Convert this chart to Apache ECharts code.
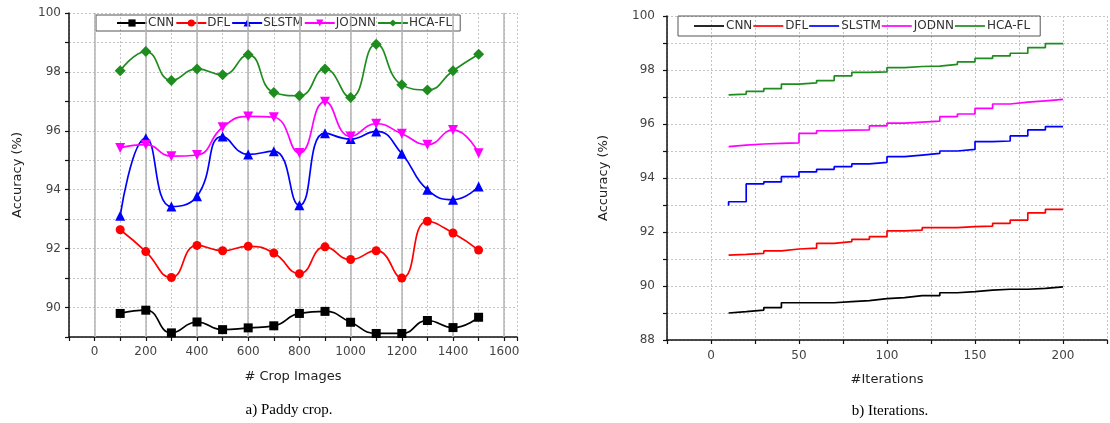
<!DOCTYPE html>
<html>
<head>
<meta charset="utf-8">
<script src="https://cdn.jsdelivr.net/npm/echarts@6/dist/echarts.min.js"></script>
<style>
html,body{margin:0;padding:0;background:#fff;}
#c{width:1110px;height:423px;}
</style>
</head>
<body>
<div id="c"></div>
<script>
// ---------- data: (a) Paddy crop ----------
const seriesNames = ['CNN', 'DFL', 'SLSTM', 'JODNN', 'HCA-FL'];
const cropImages = [100, 200, 300, 400, 500, 600, 700, 800, 900, 1000, 1100, 1200, 1300, 1400, 1500];
const cnnCrop   = [89.80, 89.91, 89.14, 89.51, 89.25, 89.31, 89.38, 89.80, 89.87, 89.50, 89.12, 89.12, 89.56, 89.32, 89.67];
const dflCrop   = [92.64, 91.90, 91.02, 92.11, 91.93, 92.08, 91.85, 91.15, 92.06, 91.63, 91.93, 91.00, 92.93, 92.53, 91.95];
const slstmCrop = [93.12, 95.75, 93.43, 93.78, 95.81, 95.20, 95.31, 93.47, 95.92, 95.72, 95.98, 95.22, 94.00, 93.66, 94.11];
const jodnnCrop = [95.42, 95.53, 95.14, 95.18, 96.12, 96.49, 96.46, 95.25, 96.99, 95.81, 96.24, 95.90, 95.53, 96.03, 95.24];
const hcaCrop   = [98.04, 98.69, 97.71, 98.10, 97.90, 98.58, 97.30, 97.19, 98.10, 97.13, 98.94, 97.56, 97.39, 98.04, 98.60];
const cropMajorLines = [0, 200, 400, 600, 800, 1000, 1200, 1400, 1600];

// ---------- data: (b) Iterations ----------
const iterations = [10, 20, 30, 40, 50, 60, 70, 80, 90, 100, 110, 120, 130, 140, 150, 160, 170, 180, 190, 200];
const cnnIter   = [89.00, 89.05, 89.11, 89.20, 89.38, 89.38, 89.38, 89.42, 89.46, 89.53, 89.57, 89.64, 89.64, 89.75, 89.79, 89.85, 89.88, 89.88, 89.91, 89.97];
const dflIter   = [91.14, 91.17, 91.21, 91.30, 91.37, 91.40, 91.58, 91.64, 91.73, 91.83, 92.04, 92.07, 92.16, 92.16, 92.20, 92.22, 92.32, 92.44, 92.71, 92.84];
const slstmIter = [92.97, 93.12, 93.78, 93.86, 94.05, 94.23, 94.32, 94.42, 94.52, 94.58, 94.79, 94.85, 94.91, 95.00, 95.06, 95.35, 95.37, 95.56, 95.78, 95.90];
const jodnnIter = [95.16, 95.22, 95.26, 95.28, 95.30, 95.65, 95.75, 95.77, 95.78, 95.93, 96.03, 96.07, 96.11, 96.27, 96.37, 96.58, 96.74, 96.81, 96.86, 96.91];
const hcaIter   = [97.08, 97.11, 97.21, 97.31, 97.48, 97.52, 97.61, 97.78, 97.91, 97.93, 98.09, 98.13, 98.14, 98.21, 98.30, 98.43, 98.52, 98.62, 98.83, 98.98];

const colors = ['#000000', '#ff0000', '#0000ff', '#ff00ff', '#1e8c1e'];
const symbols = ['rect', 'circle', 'triangle', 'triangle', 'diamond'];
const symbolSizes = [9, 9, 10, 10, 11];
const symbolRotates = [0, 0, 0, 180, 0];

const cropData = [cnnCrop, dflCrop, slstmCrop, jodnnCrop, hcaCrop];
const iterData = [cnnIter, dflIter, slstmIter, jodnnIter, hcaIter];

const FONT = 'DejaVu Sans';
const tickColor = '#444';

function pairs(xs, ys) { return xs.map((x, i) => [x, ys[i]]); }

const seriesA = seriesNames.map((n, k) => ({
  name: n, type: 'line', xAxisIndex: 0, yAxisIndex: 0,
  data: pairs(cropImages, cropData[k]),
  smooth: 0.5,
  symbol: symbols[k], symbolSize: symbolSizes[k], symbolRotate: symbolRotates[k],
  lineStyle: { color: colors[k], width: 1.7 },
  itemStyle: { color: colors[k] },
  z: 5 + k
}));
// solid grey vertical lines at major x positions
seriesA.push({
  name: '_grid', type: 'line', xAxisIndex: 0, yAxisIndex: 0, data: [],
  markLine: {
    silent: true, symbol: ['none', 'none'], label: { show: false },
    lineStyle: { color: '#b4b4b4', type: 'solid', width: 1.5 },
    data: cropMajorLines.map(v => ({ xAxis: v }))
  },
  z: 1
});

const seriesB = seriesNames.map((n, k) => ({
  name: n + ' ', type: 'line', xAxisIndex: 1, yAxisIndex: 1,
  data: pairs(iterations, iterData[k]),
  step: 'start', symbol: 'none',
  lineStyle: { color: colors[k], width: 1.7 },
  itemStyle: { color: colors[k] },
  z: 5 + k
}));

function axisCommon() {
  return {
    axisLine: { show: true, onZero: false, lineStyle: { color: '#111', width: 1.5 } },
    axisTick: { show: true, length: 4, lineStyle: { color: '#111', width: 1.2 } },
    splitLine: { show: true, lineStyle: { color: '#c4c4c4', type: [2, 2], width: 1 } },
    nameTextStyle: { fontFamily: FONT, fontSize: 13, color: '#222' }
  };
}

const option = {
  animation: false,
  backgroundColor: '#fff',
  grid: [
    { left: 69, top: 13, width: 448, height: 324 },
    { left: 667, top: 16, width: 441, height: 324 }
  ],
  legend: [
    {
      data: seriesNames, left: 96, top: 15, itemWidth: 30, itemHeight: 9, itemGap: 1,
      padding: [2, 8, 2, 20], borderColor: '#555', borderWidth: 1, borderRadius: 0,
      textStyle: { fontFamily: FONT, fontSize: 12, color: '#333', padding: [0, 0, 0, -4] },
      selectedMode: false
    },
    {
      data: seriesNames.map(n => ({ name: n + ' ', icon: 'rect' })), left: 678, top: 16,
      itemWidth: 30, itemHeight: 1.7, itemGap: 1,
      padding: [4, 10, 4, 16], borderColor: '#555', borderWidth: 1, borderRadius: 0,
      formatter: n => n.trim(),
      textStyle: { fontFamily: FONT, fontSize: 12, color: '#333', padding: [0, 0, 0, -3] },
      selectedMode: false
    }
  ],
  xAxis: [
    Object.assign(axisCommon(), {
      type: 'value', gridIndex: 0, min: -100, max: 1650, interval: 100,
      name: '# Crop Images', nameLocation: 'middle', nameGap: 33,
      axisLabel: { fontFamily: FONT, fontSize: 12, color: tickColor, margin: 9,
        formatter: v => (v >= 0 && v <= 1600 && v % 200 === 0) ? String(v) : '' }
    }),
    Object.assign(axisCommon(), {
      type: 'value', gridIndex: 1, min: -25, max: 225, interval: 25,
      name: '#Iterations', nameLocation: 'middle', nameGap: 33,
      axisLabel: { fontFamily: FONT, fontSize: 12, color: tickColor, margin: 10,
        formatter: v => (v >= 0 && v <= 200 && v % 50 === 0) ? String(v) : '' }
    })
  ],
  yAxis: [
    Object.assign(axisCommon(), {
      type: 'value', gridIndex: 0, min: 89, max: 100, interval: 1,
      name: 'Accuracy (%)', nameLocation: 'middle', nameGap: 45,
      axisLabel: { fontFamily: FONT, fontSize: 12, color: tickColor, margin: 8,
        formatter: v => (v % 2 === 0) ? String(v) : '' }
    }),
    Object.assign(axisCommon(), {
      type: 'value', gridIndex: 1, min: 88, max: 100, interval: 1,
      name: 'Accuracy (%)', nameLocation: 'middle', nameGap: 57,
      axisLabel: { fontFamily: FONT, fontSize: 12, color: tickColor, margin: 12,
        formatter: v => (v % 2 === 0) ? String(v) : '' }
    })
  ],
  graphic: [
    { type: 'text', x: 289, y: 410, style: { text: 'a) Paddy crop.', font: '15px "Liberation Serif"', fill: '#000', textAlign: 'center', textVerticalAlign: 'middle' } },
    { type: 'text', x: 890, y: 411, style: { text: 'b) Iterations.', font: '15px "Liberation Serif"', fill: '#000', textAlign: 'center', textVerticalAlign: 'middle' } }
  ],
  series: seriesA.concat(seriesB)
};

const chart = echarts.init(document.getElementById('c'), null, { renderer: 'canvas' });
chart.setOption(option);
</script>
</body>
</html>
